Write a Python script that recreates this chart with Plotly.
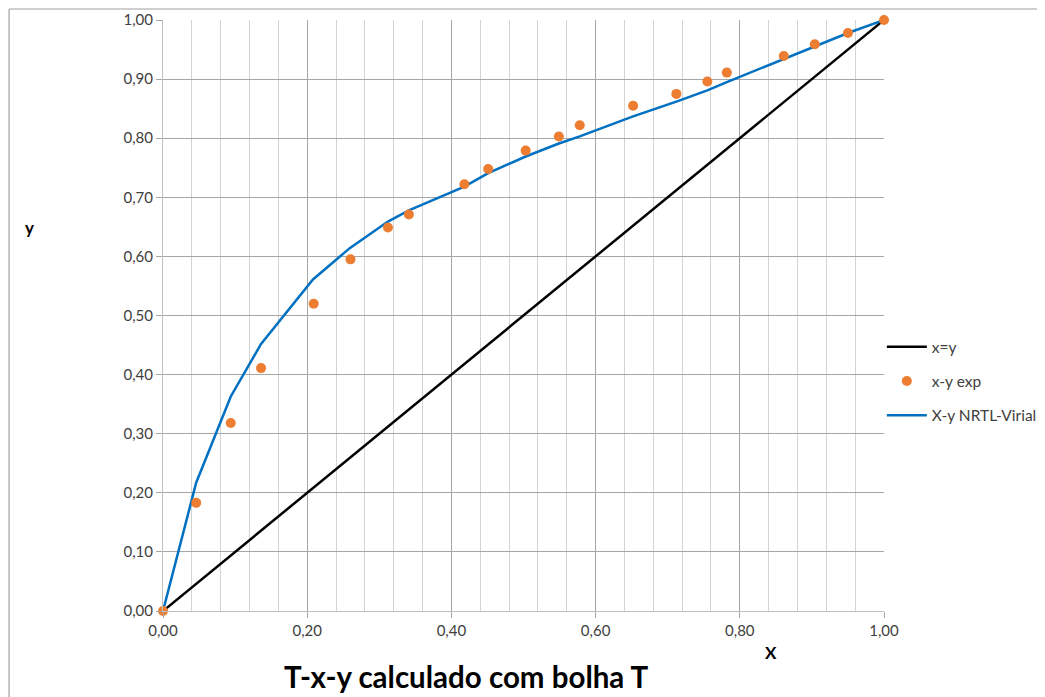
import plotly.graph_objects as go

# Diagonal x=y
diag_x = [0.0, 1.0]
diag_y = [0.0, 1.0]

# Experimental x-y points
exp_x = [0.000, 0.046, 0.094, 0.136, 0.209, 0.260, 0.312, 0.341, 0.418, 0.451,
         0.503, 0.549, 0.578, 0.652, 0.712, 0.755, 0.782, 0.861, 0.904, 0.950, 1.000]
exp_y = [0.000, 0.183, 0.318, 0.411, 0.520, 0.595, 0.649, 0.671, 0.722, 0.748,
         0.779, 0.803, 0.822, 0.855, 0.875, 0.896, 0.911, 0.939, 0.959, 0.978, 1.000]

# NRTL-Virial calculated curve
calc_x = [0.000, 0.046, 0.094, 0.136, 0.208, 0.259, 0.312, 0.341, 0.418, 0.451,
          0.503, 0.549, 0.578, 0.652, 0.712, 0.755, 0.782, 0.861, 0.904, 0.950, 1.000]
calc_y = [0.000, 0.217, 0.363, 0.452, 0.561, 0.614, 0.659, 0.678, 0.718, 0.741,
          0.769, 0.791, 0.803, 0.837, 0.862, 0.881, 0.895, 0.934, 0.954, 0.978, 1.000]

FONT = "Lato, 'Open Sans', sans-serif"

fig = go.Figure()
fig.add_trace(go.Scatter(x=diag_x, y=diag_y, mode="lines", name="x=y",
                         line=dict(color="#000000", width=2.5), legendgroup="a",
                         legendrank=1))
fig.add_trace(go.Scatter(x=calc_x, y=calc_y, mode="lines", name="X-y NRTL-Virial",
                         line=dict(color="#0070C0", width=2.5), legendgroup="c",
                         legendrank=3))
fig.add_trace(go.Scatter(x=exp_x, y=exp_y, mode="markers", name="x-y exp",
                         marker=dict(color="#ED7D31", size=10), legendgroup="b",
                         legendrank=2, cliponaxis=False))

fig.update_layout(
    width=1037, height=689,
    margin=dict(l=155, r=161, t=12, b=86, autoexpand=False),
    paper_bgcolor="white", plot_bgcolor="white",
    separators=",.",
    font=dict(family=FONT, size=15, color="#404040"),
    showlegend=True,
    legend=dict(x=0.997, y=0.475, xanchor="left", yanchor="top",
                font=dict(family=FONT, size=15.5, color="#404040"),
                tracegroupgap=11, itemwidth=40, bgcolor="rgba(0,0,0,0)"),
    xaxis=dict(range=[0, 1], tickformat=".2f", dtick=0.2, tick0=0,
               showgrid=True, gridcolor="#a6a6a6", gridwidth=1,
               minor=dict(dtick=0.04, showgrid=True, gridcolor="#d4d4d4", gridwidth=1),
               ticks="outside", ticklen=6, tickcolor="#a6a6a6",
               zeroline=False, showline=True, linecolor="#bfbfbf", linewidth=1,
               mirror=False, tickfont=dict(size=15, color="#404040"), fixedrange=True),
    yaxis=dict(range=[0, 1], tickformat=".2f", dtick=0.1, tick0=0,
               showgrid=True, gridcolor="#a6a6a6", gridwidth=1,
               ticks="outside", ticklen=6, tickcolor="#a6a6a6",
               zeroline=False, showline=True, linecolor="#bfbfbf", linewidth=1,
               tickfont=dict(size=15, color="#404040"), fixedrange=True),
    shapes=[
        dict(type="line", xref="paper", yref="paper", x0=-0.2135, x1=1.3, y0=1.0186, y1=1.0186,
             line=dict(color="#a0a0a0", width=1.2)),
        dict(type="line", xref="paper", yref="paper", x0=-0.2135, x1=-0.2135, y0=1.0186, y1=-0.2,
             line=dict(color="#a0a0a0", width=1.2)),
    ],
    annotations=[
        dict(text="<b>T-x-y calculado com bolha T</b>", xref="paper", yref="paper",
             x=0.421, y=-0.110, xanchor="center", yanchor="middle", showarrow=False,
             font=dict(family=FONT, size=29.5, color="#000000")),
        dict(text="<b>X</b>", xref="paper", yref="paper", x=0.843, y=-0.070,
             xanchor="center", yanchor="middle", showarrow=False,
             font=dict(family=FONT, size=17, color="#000000")),
        dict(text="<b>y</b>", xref="paper", yref="paper", x=-0.185, y=0.649,
             xanchor="center", yanchor="middle", showarrow=False,
             font=dict(family=FONT, size=17, color="#000000")),
    ],
)

fig.write_html("out.html")
